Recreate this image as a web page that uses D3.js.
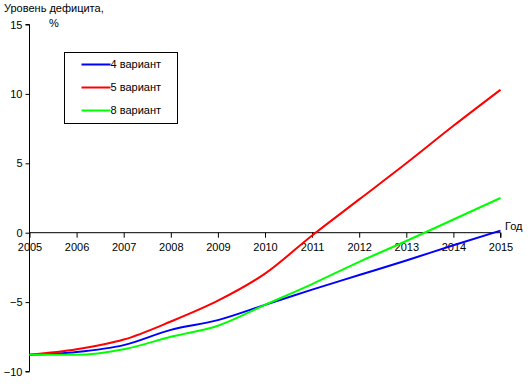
<!DOCTYPE html>
<meta charset="utf-8">
<style>
  body { margin: 0; background: #fff; }
  text { font-family: "Liberation Sans", Arial, sans-serif; font-size: 11px; fill: #000; }
</style>
<body>
<svg width="530" height="384"></svg>
<script src="https://d3js.org/d3.v7.min.js"></script>
<script>

var years = [2005, 2006, 2007, 2008, 2009, 2010, 2011, 2012, 2013, 2014, 2015];
var variant4 = [-8.8, -8.6, -8.1, -7.0, -6.3, -5.2, -4.1, -3.05, -2.0, -0.9, 0.15];
var variant5 = [-8.8, -8.4, -7.7, -6.4, -4.9, -2.95, -0.2, 2.4, 5.0, 7.7, 10.3];
var variant8 = [-8.8, -8.8, -8.4, -7.5, -6.7, -5.2, -3.7, -2.1, -0.6, 0.95, 2.5];
var seriesNames = ["4 вариант", "5 вариант", "8 вариант"];
var seriesColors = ["#0000ff", "#ff0000", "#00ff00"];
var yTicks = [15, 10, 5, 0, -5, -10];

var series = [variant4, variant5, variant8];

var svg = d3.select("svg");

var x = d3.scaleLinear().domain([2005, 2015]).range([29.5, 500.5]);
var y = d3.scaleLinear().domain([-10, 15]).range([371.5, 24.5]);

// y axis
var yAxis = svg.append("g")
    .attr("transform", "translate(" + x(2005) + ",0)")
    .call(d3.axisLeft(y).tickValues(yTicks).tickSize(4).tickPadding(3).tickFormat(d3.format("d")));
yAxis.select(".domain").attr("d", "M-4," + y(15) + "H0V" + y(-10) + "H-4");

// x axis along zero
var xAxis = svg.append("g")
    .attr("transform", "translate(0," + y(0) + ")")
    .call(d3.axisBottom(x).tickValues(years).tickSize(5).tickPadding(6).tickFormat(d3.format("d")));
xAxis.select(".domain").attr("d", "M" + x(2005) + ",0H" + x(2015) + "V5");

svg.selectAll(".tick text").style("font-size", "11px").style("font-family", "Liberation Sans, Arial, sans-serif");
svg.selectAll(".domain, .tick line").attr("stroke", "#000");

// titles
svg.append("text").attr("x", 4).attr("y", 12).text("Уровень дефицита,");
svg.append("text").attr("x", 49).attr("y", 27).text("%");
svg.append("text").attr("x", 505).attr("y", 230).text("Год");

// lines
var line = d3.line()
    .curve(d3.curveMonotoneX)
    .x(function(d, i) { return x(years[i]); })
    .y(function(d) { return y(d); });

svg.append("g").selectAll("path")
  .data(series)
  .join("path")
    .attr("fill", "none")
    .attr("stroke", function(d, i) { return seriesColors[i]; })
    .attr("stroke-width", 2)
    .attr("d", line);

// legend
var legend = svg.append("g").attr("transform", "translate(64.5,52.5)");
legend.append("rect")
    .attr("width", 113).attr("height", 71)
    .attr("fill", "#fff").attr("stroke", "#000");
var rows = legend.selectAll("g.row")
  .data(seriesNames)
  .join("g")
    .attr("class", "row")
    .attr("transform", function(d, i) { return "translate(0," + (12 + i * 23) + ")"; });
rows.append("line")
    .attr("x1", 17).attr("x2", 46)
    .attr("stroke", function(d, i) { return seriesColors[i]; })
    .attr("stroke-width", 2);
rows.append("text")
    .attr("x", 46).attr("dy", "0.35em")
    .text(function(d) { return d; });

</script>
